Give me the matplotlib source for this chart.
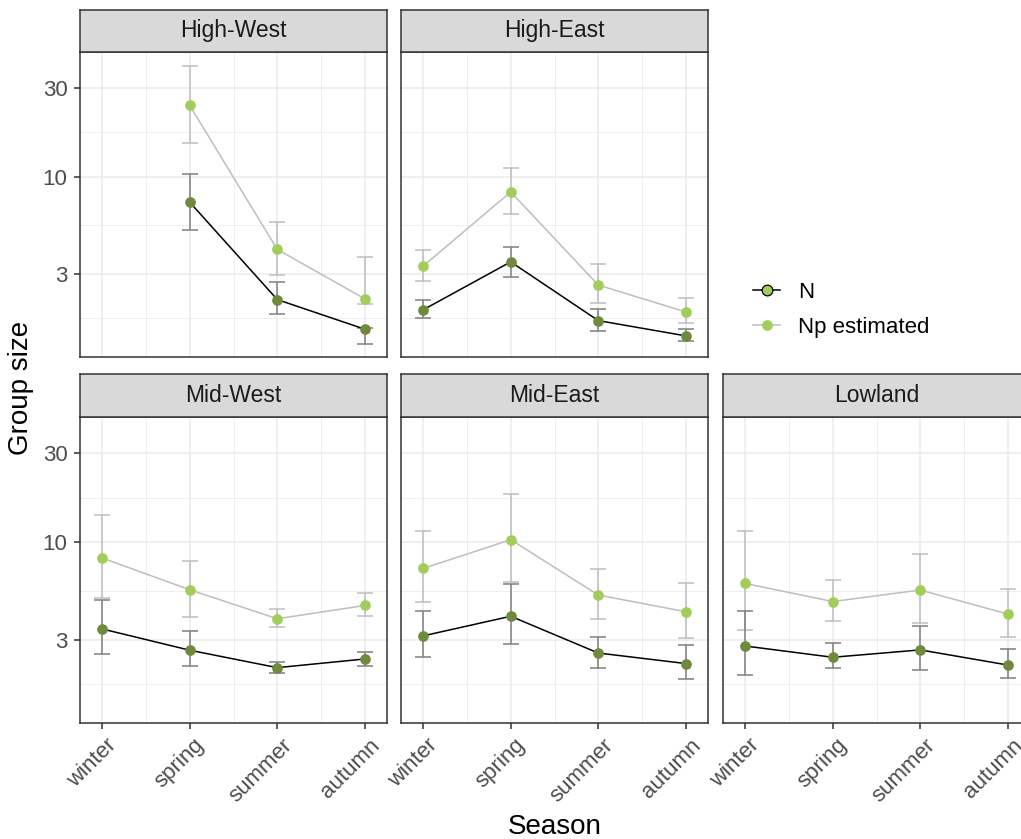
import numpy as np
import matplotlib
matplotlib.use("Agg")
import matplotlib.pyplot as plt
from matplotlib.lines import Line2D
from matplotlib.transforms import ScaledTranslation

plt.rcParams["font.family"] = ["Liberation Sans", "DejaVu Sans"]

seasons = ["winter", "spring", "summer", "autumn"]
regions = ["High-West", "High-East", "Mid-West", "Mid-East", "Lowland"]
nan = np.nan

# Observed group size N (mean, lower, upper)
n_mean = {
    "High-West": [nan, 7.29, 2.18, 1.51],
    "High-East": [1.92, 3.48, 1.68, 1.39],
    "Mid-West":  [3.42, 2.63, 2.12, 2.36],
    "Mid-East":  [3.14, 4.00, 2.54, 2.23],
    "Lowland":   [2.77, 2.41, 2.64, 2.19],
}
n_low = {
    "High-West": [nan, 5.19, 1.83, 1.26],
    "High-East": [1.73, 2.89, 1.48, 1.30],
    "Mid-West":  [2.51, 2.16, 1.99, 2.17],
    "Mid-East":  [2.43, 2.83, 2.12, 1.85],
    "Lowland":   [1.94, 2.10, 2.06, 1.87],
}
n_high = {
    "High-West": [nan, 10.4, 2.71, 1.53],
    "High-East": [2.17, 4.19, 1.95, 1.52],
    "Mid-West":  [4.90, 3.35, 2.28, 2.57],
    "Mid-East":  [4.28, 5.95, 3.11, 2.79],
    "Lowland":   [4.28, 2.87, 3.55, 2.68],
}

# Estimated group size Np (mean, lower, upper)
np_mean = {
    "High-West": [nan, 24.2, 4.06, 2.20],
    "High-East": [3.30, 8.28, 2.61, 1.87],
    "Mid-West":  [8.22, 5.55, 3.88, 4.57],
    "Mid-East":  [7.22, 10.3, 5.20, 4.23],
    "Lowland":   [6.00, 4.80, 5.53, 4.11],
}
np_low = {
    "High-West": [nan, 15.1, 2.96, 2.06],
    "High-East": [2.75, 6.31, 2.09, 1.64],
    "Mid-West":  [5.03, 3.94, 3.50, 3.99],
    "Mid-East":  [4.80, 6.10, 3.89, 3.06],
    "Lowland":   [3.37, 3.75, 3.67, 3.11],
}
np_high = {
    "High-West": [nan, 39.5, 5.73, 3.70],
    "High-East": [4.02, 11.1, 3.38, 2.21],
    "Mid-West":  [13.9, 7.95, 4.39, 5.30],
    "Mid-East":  [11.4, 18.2, 7.14, 6.00],
    "Lowland":   [11.4, 6.28, 8.59, 5.62],
}

y_breaks = [3, 10, 30]
y_minor = [np.sqrt(3), np.sqrt(30), np.sqrt(300)]

C_N = "#6E8B3D"
C_NP = "#A2CD5A"
C_NP_LINE = "#BEBEBE"
C_N_BAR = "#7F7F7F"
C_NP_BAR = "#BEBEBE"
GRID = "#EBEBEB"
BORDER = "#333333"

W, H = 1021, 839
fig = plt.figure(figsize=(W / 100, H / 100), dpi=100)


def frac(x0, y0, x1, y1):
    return [x0 / W, 1 - y1 / H, (x1 - x0) / W, (y1 - y0) / H]


col_x = [80, 401, 723]
pw = 307
rows = [(10, 52, 357), (374, 417, 723)]
layout = {
    "High-West": (0, 0), "High-East": (0, 1),
    "Mid-West": (1, 0), "Mid-East": (1, 1), "Lowland": (1, 2),
}

x = np.arange(1, 5)

for reg in regions:
    r, c = layout[reg]
    st, pt, pb = rows[r]
    x0 = col_x[c]
    ax = fig.add_axes(frac(x0, pt, x0 + pw, pb))
    ax.set_yscale("log")
    ax.set_xlim(0.747, 4.253)
    ax.set_ylim(1.07, 46.9)

    ax.set_facecolor("white")
    for v in y_breaks:
        ax.axhline(v, color=GRID, lw=1.1, zorder=0)
    for v in y_minor:
        ax.axhline(v, color=GRID, lw=0.55, zorder=0)
    for v in x:
        ax.axvline(v, color=GRID, lw=1.1, zorder=0)
    for v in [1.5, 2.5, 3.5]:
        ax.axvline(v, color=GRID, lw=0.55, zorder=0)

    # Np estimated
    m = np.array(np_mean[reg]); lo = np.array(np_low[reg]); hi = np.array(np_high[reg])
    ax.errorbar(x, m, yerr=[m - lo, hi - m], fmt="none", ecolor=C_NP_BAR,
                elinewidth=1.1, capsize=6, capthick=1.1, zorder=2)
    ax.plot(x, m, color=C_NP_LINE, lw=1.1, zorder=3)
    ax.plot(x, m, "o", color=C_NP, ms=7.7, mec="none", zorder=4)

    # N observed
    m = np.array(n_mean[reg]); lo = np.array(n_low[reg]); hi = np.array(n_high[reg])
    ax.errorbar(x, m, yerr=[m - lo, hi - m], fmt="none", ecolor=C_N_BAR,
                elinewidth=1.1, capsize=6, capthick=1.1, zorder=5)
    ax.plot(x, m, color="black", lw=1.1, zorder=6)
    ax.plot(x, m, "o", color=C_N, ms=7.7, mec="none", zorder=7)

    for s in ax.spines.values():
        s.set_color(BORDER)
        s.set_linewidth(1.1)

    ax.yaxis.set_minor_locator(matplotlib.ticker.NullLocator())
    ax.set_yticks(y_breaks)
    ax.set_xticks(x)
    ax.tick_params(colors=BORDER, width=1.1, length=4, labelsize=16,
                   labelcolor="#4D4D4D", pad=3)
    ax.tick_params(axis="y", pad=5)
    if c == 0:
        ax.set_yticklabels([str(v) for v in y_breaks])
    else:
        ax.tick_params(axis="y", left=False, labelleft=False)
    if r == 1:
        ax.set_xticklabels(seasons, rotation=45, ha="right", va="top",
                           rotation_mode="anchor")
        for lab in ax.get_xticklabels():
            lab.set_transform(lab.get_transform() +
                              ScaledTranslation(4 / 100, -2 / 100, fig.dpi_scale_trans))
    else:
        ax.tick_params(axis="x", bottom=False, labelbottom=False)

    # facet strip
    sax = fig.add_axes(frac(x0, st, x0 + pw, pt))
    sax.set_xticks([]); sax.set_yticks([])
    sax.set_facecolor("#D9D9D9")
    for s in sax.spines.values():
        s.set_color(BORDER)
        s.set_linewidth(1.1)
    sax.text(0.5, 0.5, reg, ha="center", va="center", fontsize=16.5,
             color="#1A1A1A", transform=sax.transAxes)

fig.text(21 / W, 1 - 388 / H, "Group size", rotation=90, ha="center",
         va="center", fontsize=20)
fig.text(555 / W, 1 - 827 / H, "Season", ha="center", va="center",
         fontsize=20)

handles = [
    Line2D([], [], color="black", lw=1.1, marker="o", ms=7.7, mfc=C_NP,
           mec="black", mew=0.9),
    Line2D([], [], color=C_NP_LINE, lw=1.1, marker="o", ms=7.7, mfc=C_NP,
           mec="none"),
]
fig.legend(handles, ["N", "Np estimated"], loc="center left",
           bbox_to_anchor=(753 / W, 1 - 310 / H), frameon=False,
           fontsize=16, handlelength=1.22, handletextpad=0.82,
           labelspacing=0.63, borderpad=0, borderaxespad=0)

fig.savefig("out.png", dpi=100)
